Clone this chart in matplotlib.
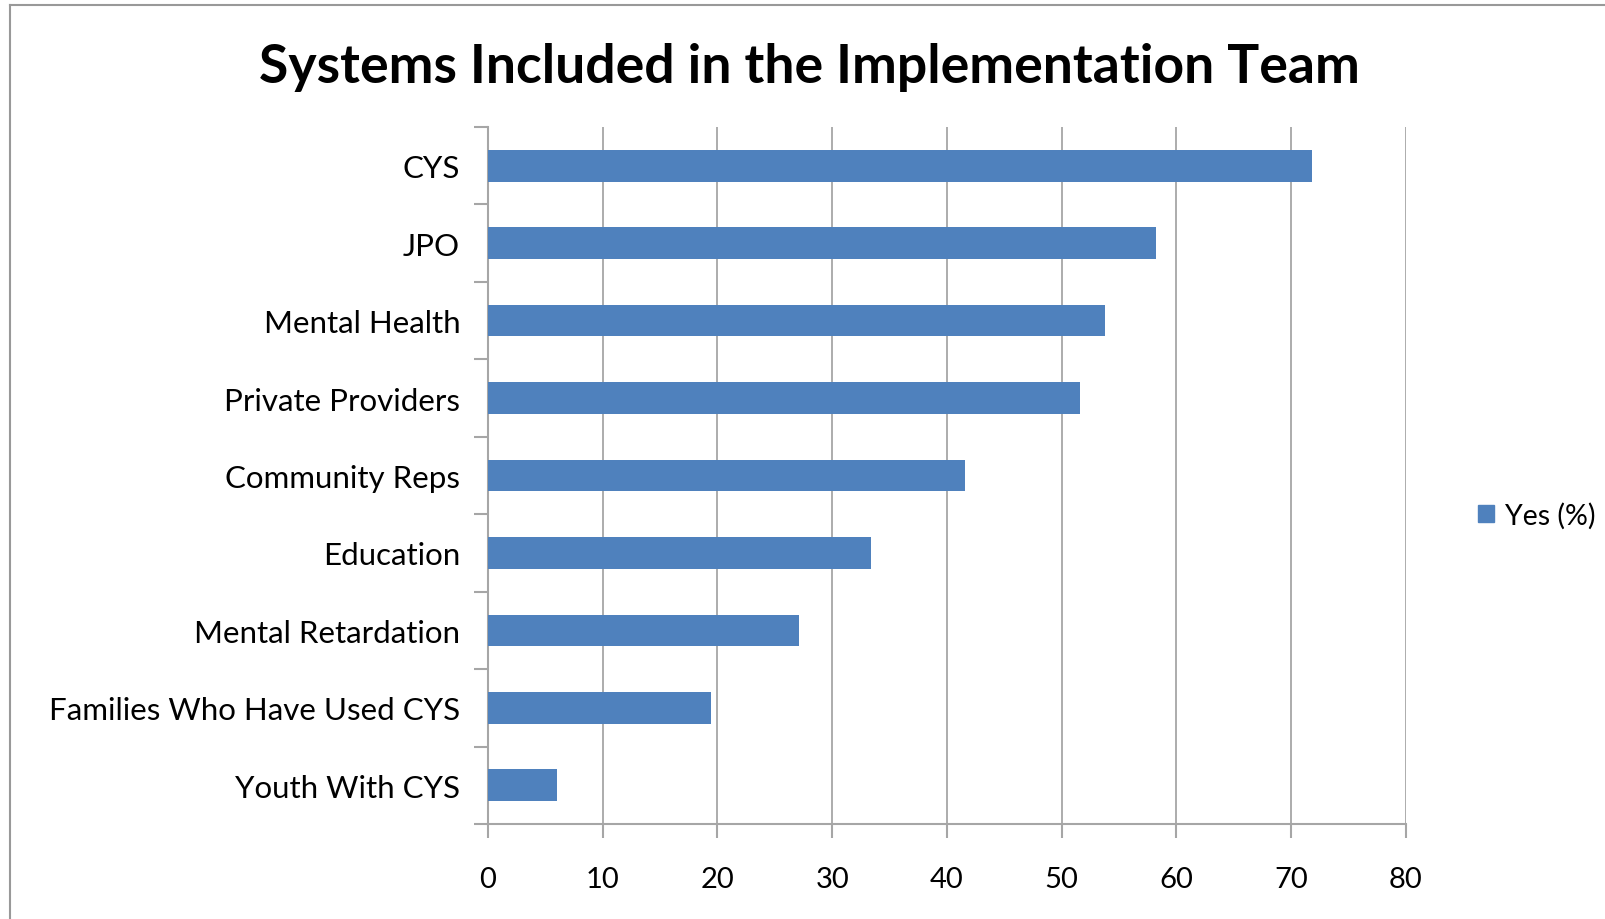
import numpy as np
import matplotlib.pyplot as plt
from matplotlib.patches import Patch
from matplotlib.lines import Line2D

# data
categories = ['CYS', 'JPO', 'Mental Health', 'Private Providers', 'Community Reps',
              'Education', 'Mental Retardation', 'Families Who Have Used CYS', 'Youth With CYS']
yes_pct = [71.8, 58.2, 53.8, 51.6, 41.6, 33.4, 27.1, 19.4, 6.0]
x_ticks = [0, 10, 20, 30, 40, 50, 60, 70, 80]

plt.rcParams['font.family'] = ['Lato', 'DejaVu Sans']
bar_color = '#4f81bd'
grid_color = '#a6a6a6'

fig = plt.figure(figsize=(16.06, 9.2), dpi=100)
W, H = 1606, 920
ax = fig.add_axes([488 / W, 1 - 825 / H, (1406 - 488) / W, (825 - 128) / H])

n = len(categories)
ypos = np.arange(n)[::-1]
ax.barh(ypos, yes_pct, height=0.41, color=bar_color, zorder=3)

ax.set_xlim(0, 80)
ax.set_ylim(-0.5, n - 0.5)
ax.set_xticks(x_ticks)
ax.set_xticklabels([str(t) for t in x_ticks], fontsize=21)
ax.set_yticks(ypos)
ax.set_yticklabels(categories, fontsize=22.5)
ax.tick_params(axis='y', length=0, pad=20)
ax.tick_params(axis='x', length=10, color=grid_color, width=1.5, pad=20)

# category separator ticks on the y axis
sep = np.arange(-0.5, n, 1.0)
ax.set_yticks(sep, minor=True)
ax.tick_params(axis='y', which='minor', length=10, color=grid_color, width=1.5)

ax.grid(axis='x', color=grid_color, lw=1.3, zorder=0)
for s in ['top', 'right']:
    ax.spines[s].set_visible(False)
for s in ['left', 'bottom']:
    ax.spines[s].set_color(grid_color)
    ax.spines[s].set_linewidth(1.5)

fig.text(809 / W, 1 - 68 / H, 'Systems Included in the Implementation Team',
         ha='center', va='center', fontsize=38.5, fontweight='bold')

leg = fig.legend(handles=[Patch(color=bar_color, label='Yes (%)')],
                 loc='center left', bbox_to_anchor=(1478 / W, 1 - 516 / H),
                 frameon=False, fontsize=20.5, handlelength=0.55, handleheight=0.55,
                 handletextpad=0.4, borderpad=0, borderaxespad=0)

# outer chart border (left and top edges visible)
fig.add_artist(Line2D([10 / W, 10 / W], [0, 1 - 6 / H], transform=fig.transFigure,
                      color='#999999', lw=1.5))
fig.add_artist(Line2D([10 / W, 1], [1 - 6 / H, 1 - 6 / H], transform=fig.transFigure,
                      color='#999999', lw=1.5))

fig.savefig('out.png', dpi=100)
